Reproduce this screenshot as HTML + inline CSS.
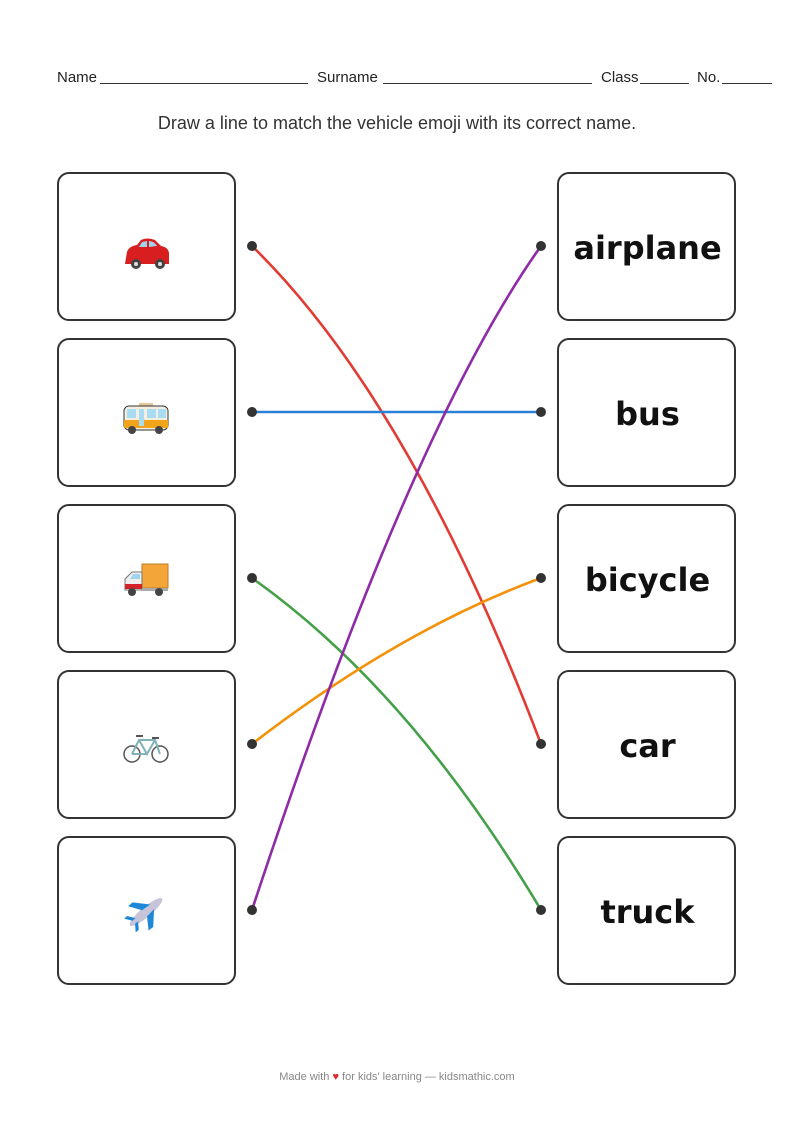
<!DOCTYPE html>
<html><head><meta charset="utf-8"><style>
body{margin:0;width:794px;height:1123px;background:#fff;position:relative;font-family:"Liberation Sans","DejaVu Sans",sans-serif;overflow:hidden}
.t{position:absolute;font-size:15px;color:#222;top:69px}
.u{position:absolute;top:83px;height:0;border-top:1px solid #333}
.box{position:absolute;width:179px;height:149px;border:2px solid #333;border-radius:12px;box-sizing:border-box}
.lab{position:absolute;left:557px;width:181px;text-align:center;font-weight:bold;font-size:32px;color:#111;font-family:"DejaVu Sans",sans-serif}
</style></head><body>
<div class="t" style="left:57px">Name</div><div class="u" style="left:100px;width:208px"></div>
<div class="t" style="left:317px">Surname</div><div class="u" style="left:383px;width:209px"></div>
<div class="t" style="left:601px">Class</div><div class="u" style="left:640px;width:49px"></div>
<div class="t" style="left:697px">No.</div><div class="u" style="left:722px;width:50px"></div>
<div style="position:absolute;top:113px;left:0;width:794px;text-align:center;font-size:18px;color:#333">Draw a line to match the vehicle emoji with its correct name.</div>

<div class="box" style="left:57px;top:172px"></div>
<div class="box" style="left:57px;top:338px"></div>
<div class="box" style="left:57px;top:504px"></div>
<div class="box" style="left:57px;top:670px"></div>
<div class="box" style="left:57px;top:836px"></div>
<div class="box" style="left:557px;top:172px"></div>
<div class="box" style="left:557px;top:338px"></div>
<div class="box" style="left:557px;top:504px"></div>
<div class="box" style="left:557px;top:670px"></div>
<div class="box" style="left:557px;top:836px"></div>

<div class="lab" style="top:229px">airplane</div>
<div class="lab" style="top:395px">bus</div>
<div class="lab" style="top:561px">bicycle</div>
<div class="lab" style="top:727px">car</div>
<div class="lab" style="top:893px">truck</div>

<svg width="794" height="1123" style="position:absolute;left:0;top:0">
<g transform="translate(123,238)">
<path d="M4 14 Q6 8 14 7 L18 2 Q24 -1 32 2 L38 8 Q45 9 46 15 L46 26 L2 26 Z" fill="#d81e1e"/>
<path d="M19 4 L24 3 L24 9 L16 9 Z M26 3 Q31 3 34 8 L26 9Z" fill="#9fd3ee"/>
<circle cx="13" cy="26" r="5" fill="#444"/><circle cx="13" cy="26" r="2" fill="#ddd"/>
<circle cx="37" cy="26" r="5" fill="#444"/><circle cx="37" cy="26" r="2" fill="#ddd"/>
</g>
<g transform="translate(123,403)">
<rect x="16" y="0" width="14" height="4" fill="#e6c79a"/>
<rect x="1" y="3" width="44" height="24" rx="5" fill="#f4ede0" stroke="#333" stroke-width="1"/>
<rect x="1" y="17" width="44" height="8" fill="#f2a51a"/>
<rect x="4" y="6" width="9" height="9" fill="#a7dcf2"/><rect x="16" y="6" width="5" height="17" fill="#a7dcf2"/><rect x="24" y="6" width="9" height="9" fill="#a7dcf2"/><rect x="35" y="6" width="8" height="9" fill="#a7dcf2"/>
<circle cx="9" cy="27" r="4" fill="#444"/><circle cx="36" cy="27" r="4" fill="#444"/>
</g>
<g transform="translate(122,564)">
<rect x="20" y="0" width="26" height="24" fill="#f3a637" stroke="#c07a20"/>
<path d="M3 26 L3 15 L10 8 L20 8 L20 26Z" fill="#eee" stroke="#777"/>
<path d="M8 15 L11 10 L18 10 L18 15Z" fill="#9fd3ee"/>
<rect x="3" y="20" width="17" height="5" fill="#d2232a"/>
<rect x="20" y="24" width="26" height="3" fill="#aaa"/>
<circle cx="10" cy="28" r="4" fill="#444"/><circle cx="37" cy="28" r="4" fill="#444"/>
</g>
<g transform="translate(123,734)" fill="none" stroke="#7fb3b8" stroke-width="2">
<circle cx="9" cy="20" r="8" stroke="#555" stroke-width="1.5"/><circle cx="37" cy="20" r="8" stroke="#555" stroke-width="1.5"/>
<path d="M9 20 L16 6 L32 6 L37 20 M16 6 L24 20 L32 6 M24 20 L9 20"/>
<path d="M13 2 L20 2 M29 4 L36 4" stroke="#555"/>
</g>
<g transform="translate(146,912) rotate(-40)">
<ellipse cx="0" cy="0" rx="21" ry="5" fill="#c7c4d9"/>
<path d="M-2 -4 L-10 -16 L-4 -16 L8 -3Z M-2 4 L-10 16 L-4 16 L8 3Z" fill="#1e88d8"/>
<path d="M-16 -2 L-21 -9 L-17 -9 L-12 -2Z M-16 2 L-21 9 L-17 9 L-12 2Z" fill="#1e88d8"/>
</g>

<g fill="none" stroke-width="2.6">
<path d="M252 246 Q410 400 541 744" stroke="#e23b33"/>
<path d="M252 412 L541 412" stroke="#2a7fd6"/>
<path d="M252 578 Q410 690 541 910" stroke="#43a047"/>
<path d="M252 744 Q400 630 541 578" stroke="#f39209"/>
<path d="M252 910 Q410 430 541 246" stroke="#8e2ba6"/>
</g>
<g fill="#333">
<circle cx="252" cy="246" r="5"/><circle cx="252" cy="412" r="5"/><circle cx="252" cy="578" r="5"/><circle cx="252" cy="744" r="5"/><circle cx="252" cy="910" r="5"/>
<circle cx="541" cy="246" r="5"/><circle cx="541" cy="412" r="5"/><circle cx="541" cy="578" r="5"/><circle cx="541" cy="744" r="5"/><circle cx="541" cy="910" r="5"/>
</g>
</svg>
<div style="position:absolute;top:1071px;left:0;width:794px;text-align:center;font-size:11px;color:#888">Made with <span style="color:#e0282e">&#9829;</span> for kids' learning — kidsmathic.com</div>
</body></html>
